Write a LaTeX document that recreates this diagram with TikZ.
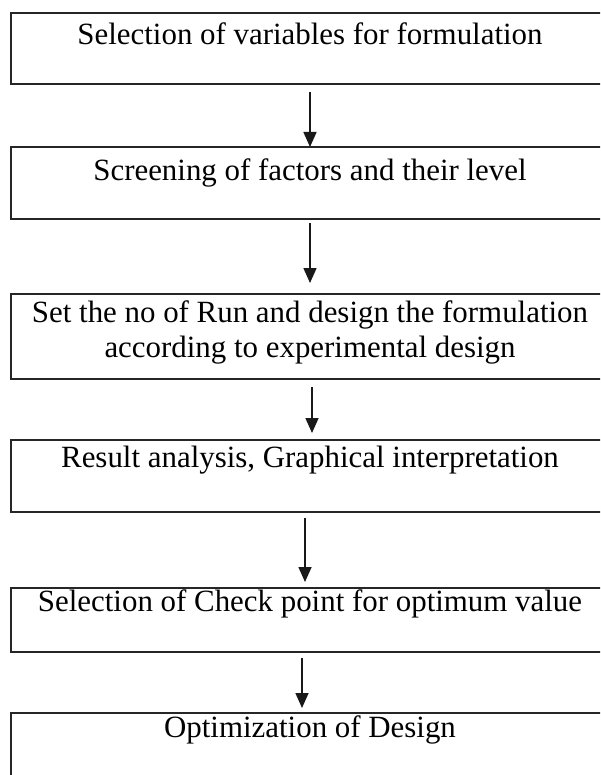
\documentclass[tikz,border=0pt]{standalone}
\usepackage{fontspec}
\setmainfont{Liberation Serif}
\usetikzlibrary{arrows.meta}
\begin{document}
\begin{tikzpicture}[x=0.5pt,y=-0.5pt,
  box/.style={draw=black!85, line width=1pt, outer sep=0pt, inner sep=0pt, anchor=north west, minimum width=299pt},
  lbl/.style={anchor=base, inner sep=0pt, font=\fontsize{15.45}{18.5}\selectfont},
  arr/.style={draw=black!90, line width=0.8pt, -{Triangle[width=6.5pt,length=7.5pt]}}]
\useasboundingbox (0,0) rectangle (600,775);
\clip (0,0) rectangle (600,775);
\fill[white] (0,0) rectangle (600,775);
% boxes
\node[box, minimum height=35.65pt] (b1) at (11,12.7) {};
\node[box, minimum height=36pt]    (b2) at (11,147) {};
\node[box, minimum height=42.5pt]  (b3) at (11,294) {};
\node[box, minimum height=36pt]    (b4) at (11,440) {};
\node[box, minimum height=32pt]    (b5) at (11,588) {};
\node[box, minimum height=38.5pt]  (b6) at (11,713) {};
% texts
\node[lbl] (t1)  at (310,45)  {Selection of variables for formulation};
\node[lbl] (t2)  at (310,181) {Screening of factors and their level};
\node[lbl] (t3a) at (310,322) {Set the no of Run and design the formulation};
\node[lbl] (t3b) at (310,357) {according to experimental design};
\node[lbl] (t4)  at (310,467) {Result analysis, Graphical interpretation};
\node[lbl] (t5)  at (310,611) {Selection of Check point for optimum value};
\node[lbl] (t6)  at (310,737) {Optimization of Design};
% arrows
\draw[arr] ([yshift=-4pt]b1.south) -- (b2.north);
\draw[arr] ([yshift=-2pt]b2.south) -- ([yshift=5.5pt]b3.north);
\draw[arr] ([xshift=1pt,yshift=-4pt]b3.south) -- ([xshift=1pt,yshift=3.5pt]b4.north);
\draw[arr] ([xshift=-2.5pt,yshift=-3pt]b4.south) -- ([xshift=-2.5pt,yshift=3pt]b5.north);
\draw[arr] ([xshift=-4pt,yshift=-3pt]b5.south) -- ([xshift=-4pt,yshift=2.5pt]b6.north);
\end{tikzpicture}
\end{document}
